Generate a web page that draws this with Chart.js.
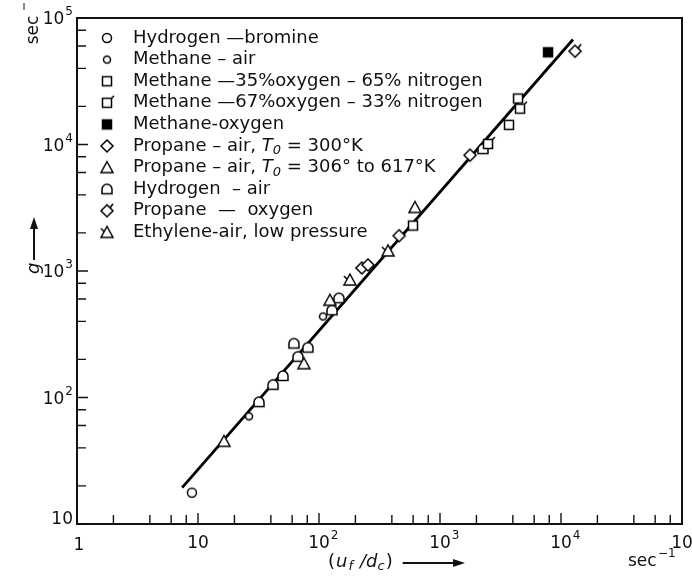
<!DOCTYPE html>
<html>
<head>
<meta charset="utf-8">
<script src="https://cdn.jsdelivr.net/npm/chart.js@4/dist/chart.umd.min.js"></script>
<style>
  body { margin: 0; background: #fff; }
  canvas { display: block; }
</style>
</head>
<body>
<canvas id="chart" width="692" height="578"></canvas>
<script>
// flame data: x = u_f/d_c (sec^-1), y = g (sec^-1)
var hbrX = [8.9];
var hbrY = [17.7];
var methAirX = [26.4, 108];
var methAirY = [71, 437];
var meth35X = [598, 3716, 4415];
var meth35Y = [2286, 14300, 23100];
var meth67X = [2494, 4583];
var meth67Y = [10100, 19200];
var methOxX = [7810];
var methOxY = [53600];
var prop300X = [226, 254, 459, 1770];
var prop300Y = [1057, 1117, 1900, 8240];
var propHotX = [16.4, 75, 123, 621];
var propHotY = [45, 185, 587, 3180];
var h2AirX = [31.9, 41.7, 50.4, 62, 67, 81, 128, 146, 2265];
var h2AirY = [92, 126, 148, 267, 210, 248, 489, 609, 9200];
var propOxX = [13060];
var propOxY = [54600];
var ethX = [180, 372];
var ethY = [848, 1442];

// fitted line end points
var fitX = [7.4, 12560];
var fitY = [19.4, 67600];

// axis ticks
var xDecades = [1, 10, 100, 1000, 10000, 100000];
var xExp = ['', '', '2', '3', '4', '5'];
var yDecades = [10, 100, 1000, 10000, 100000];
var yExp = ['', '2', '3', '4', '5'];
var minorSteps = [2, 4, 6, 8];

var FONT = '"DejaVu Sans", sans-serif';

function pts(xs, ys) {
  return xs.map(function (x, i) { return { x: x, y: ys[i] }; });
}

// small canvases used as point styles (and again in the legend)
function marker(kind) {
  var c = document.createElement('canvas');
  c.width = 20; c.height = 20;
  var g = c.getContext('2d');
  g.lineWidth = 1.5;
  g.strokeStyle = '#000';
  g.fillStyle = '#fff';
  g.beginPath();
  if (kind == 'circle') {
    g.arc(10, 10, 4.5, 0, 2 * Math.PI);
  } else if (kind == 'smallCircle') {
    g.arc(10, 10, 3.5, 0, 2 * Math.PI);
  } else if (kind == 'square' || kind == 'squareTick' || kind == 'filled') {
    g.rect(5.5, 5.5, 9, 9);
  } else if (kind == 'diamond' || kind == 'diamondTick') {
    g.moveTo(10, 4); g.lineTo(16, 10); g.lineTo(10, 16); g.lineTo(4, 10); g.closePath();
  } else if (kind == 'triangle' || kind == 'triangleTick') {
    g.moveTo(10, 4); g.lineTo(16, 15); g.lineTo(4, 15); g.closePath();
  } else if (kind == 'arch') {
    g.moveTo(5, 14.5); g.lineTo(5, 10); g.arc(10, 10, 5, Math.PI, 0); g.lineTo(15, 14.5); g.closePath();
  }
  if (kind == 'filled') g.fillStyle = '#000';
  g.fill();
  g.stroke();
  g.beginPath();
  if (kind == 'squareTick') { g.moveTo(14.5, 5.5); g.lineTo(17, 3); }
  if (kind == 'diamondTick') { g.moveTo(13, 7); g.lineTo(16, 3); }
  if (kind == 'triangleTick') { g.moveTo(7, 9); g.lineTo(4, 6); }
  g.stroke();
  return c;
}

var series = [
  { label: [['Hydrogen \u2014bromine']], x: hbrX, y: hbrY, m: marker('circle') },
  { label: [['Methane \u2013 air']], x: methAirX, y: methAirY, m: marker('smallCircle') },
  { label: [['Methane \u201435%oxygen \u2013 65% nitrogen']], x: meth35X, y: meth35Y, m: marker('square') },
  { label: [['Methane \u201467%oxygen \u2013 33% nitrogen']], x: meth67X, y: meth67Y, m: marker('squareTick') },
  { label: [['Methane-oxygen']], x: methOxX, y: methOxY, m: marker('filled') },
  { label: [['Propane \u2013 air, '], ['T', 'i'], ['0', 'sub'], [' = 300\u00b0K']], x: prop300X, y: prop300Y, m: marker('diamond') },
  { label: [['Propane \u2013 air, '], ['T', 'i'], ['0', 'sub'], [' = 306\u00b0 to 617\u00b0K']], x: propHotX, y: propHotY, m: marker('triangle') },
  { label: [['Hydrogen  \u2013 air']], x: h2AirX, y: h2AirY, m: marker('arch') },
  { label: [['Propane  \u2014  oxygen']], x: propOxX, y: propOxY, m: marker('diamondTick') },
  { label: [['Ethylene-air, low pressure']], x: ethX, y: ethY, m: marker('triangleTick') }
];

var datasets = [{
  type: 'line',
  label: 'fit',
  data: pts(fitX, fitY),
  borderColor: '#000',
  borderWidth: 2.8,
  pointRadius: 0,
  order: 5
}];
series.forEach(function (s) {
  datasets.push({
    label: s.label.map(function (p) { return p[0]; }).join(''),
    data: pts(s.x, s.y),
    pointStyle: s.m,
    order: 0
  });
});

// base number with a raised exponent
function drawPow(ctx, base, exp, x, y, align) {
  ctx.font = '17px ' + FONT;
  var bw = ctx.measureText(base).width;
  ctx.font = '12px ' + FONT;
  var ew = exp ? ctx.measureText(exp).width + 1 : 0;
  var left = align == 'right' ? x - bw - ew : x - bw / 2;
  ctx.textAlign = 'left';
  ctx.textBaseline = 'middle';
  ctx.font = '17px ' + FONT;
  ctx.fillText(base, left, y);
  if (exp) {
    ctx.font = '12px ' + FONT;
    ctx.fillText(exp, left + bw + 1, y - 8);
  }
}

// legend text with italic and subscript pieces
function drawRich(ctx, parts, x, y) {
  ctx.textAlign = 'left';
  ctx.textBaseline = 'middle';
  parts.forEach(function (p) {
    var dy = 0;
    if (p[1] == 'i') ctx.font = 'italic 18px ' + FONT;
    else if (p[1] == 'sub') { ctx.font = 'italic 13px ' + FONT; dy = 5; }
    else ctx.font = '18px ' + FONT;
    ctx.fillText(p[0], x, y + dy);
    x += ctx.measureText(p[0]).width;
  });
}

function arrow(ctx, x1, y1, x2, y2) {
  ctx.beginPath();
  ctx.moveTo(x1, y1);
  ctx.lineTo(x2, y2);
  ctx.lineWidth = 2;
  ctx.stroke();
  var a = Math.atan2(y2 - y1, x2 - x1);
  ctx.beginPath();
  ctx.moveTo(x2 + 3 * Math.cos(a), y2 + 3 * Math.sin(a));
  ctx.lineTo(x2 - 9 * Math.cos(a) + 4 * Math.sin(a), y2 - 9 * Math.sin(a) - 4 * Math.cos(a));
  ctx.lineTo(x2 - 9 * Math.cos(a) - 4 * Math.sin(a), y2 - 9 * Math.sin(a) + 4 * Math.cos(a));
  ctx.closePath();
  ctx.fill();
}

var frame = {
  id: 'frame',
  afterDraw: function (chart) {
    var ctx = chart.ctx;
    var a = chart.chartArea;
    var xs = chart.scales.x, ys = chart.scales.y;
    ctx.save();
    ctx.strokeStyle = '#111';
    ctx.fillStyle = '#111';

    ctx.lineWidth = 2;
    ctx.strokeRect(a.left, a.top, a.right - a.left, a.bottom - a.top);

    // inward ticks
    ctx.lineWidth = 1.4;
    ctx.beginPath();
    xDecades.forEach(function (d, i) {
      var px = xs.getPixelForValue(d);
      ctx.moveTo(px, a.bottom); ctx.lineTo(px, a.bottom - 11);
      if (i < xDecades.length - 1) {
        minorSteps.forEach(function (s) {
          var q = xs.getPixelForValue(d * s);
          ctx.moveTo(q, a.bottom); ctx.lineTo(q, a.bottom - 9);
        });
      }
    });
    yDecades.forEach(function (d, i) {
      var py = ys.getPixelForValue(d);
      ctx.moveTo(a.left, py); ctx.lineTo(a.left + 11, py);
      if (i < yDecades.length - 1) {
        minorSteps.forEach(function (s) {
          var q = ys.getPixelForValue(d * s);
          ctx.moveTo(a.left, q); ctx.lineTo(a.left + 9, q);
        });
      }
    });
    ctx.stroke();

    // tick labels
    xDecades.forEach(function (d, i) {
      var px = xs.getPixelForValue(d);
      if (d == 1) drawPow(ctx, '1', '', px + 2, a.bottom + 22);
      else drawPow(ctx, '10', xExp[i], px, a.bottom + 20);
    });
    yDecades.forEach(function (d, i) {
      var py = ys.getPixelForValue(d);
      drawPow(ctx, '10', yExp[i], a.left - 4, d == 10 ? py - 4 : py + 2, 'right');
    });

    // axis titles
    ctx.textBaseline = 'middle';
    ctx.textAlign = 'left';
    var tx = 328, ty = 562;
    ctx.font = '18px ' + FONT;
    ctx.fillText('(', tx, ty); tx += ctx.measureText('(').width + 1;
    ctx.font = 'italic 18px ' + FONT;
    ctx.fillText('u', tx, ty); tx += ctx.measureText('u').width;
    ctx.font = 'italic 13px ' + FONT;
    ctx.fillText('f', tx + 1, ty + 5); tx += ctx.measureText('f').width + 8;
    ctx.font = 'italic 18px ' + FONT;
    ctx.fillText('/d', tx, ty); tx += ctx.measureText('/d').width;
    ctx.font = 'italic 13px ' + FONT;
    ctx.fillText('c', tx, ty + 5); tx += ctx.measureText('c').width + 1;
    ctx.font = '18px ' + FONT;
    ctx.fillText(')', tx, ty);
    tx += ctx.measureText(')').width;
    arrow(ctx, tx + 10, ty + 1, 462, ty + 1);

    ctx.font = '17px ' + FONT;
    ctx.fillText('sec', 628, 562);
    ctx.font = '12px ' + FONT;
    ctx.fillText('\u22121', 658, 554);

    ctx.save();
    ctx.translate(34, 250);
    ctx.rotate(-Math.PI / 2);
    ctx.font = 'italic 18px ' + FONT;
    ctx.textAlign = 'left';
    ctx.fillText('g', -24, 0);
    arrow(ctx, -10, 0, 30, 0);
    ctx.restore();

    ctx.save();
    ctx.translate(34, 30);
    ctx.rotate(-Math.PI / 2);
    ctx.font = '17px ' + FONT;
    ctx.textAlign = 'center';
    ctx.fillText('sec', 0, 0);
    ctx.restore();
    ctx.beginPath();
    ctx.lineWidth = 1;
    ctx.moveTo(24, 3); ctx.lineTo(24, 10);
    ctx.stroke();

    // legend inside the plot
    series.forEach(function (s, i) {
      var y = 38 + i * 21.6;
      ctx.drawImage(s.m, 107 - 10, y - 10);
      drawRich(ctx, s.label, 133, y);
    });
    ctx.restore();
  }
};

new Chart(document.getElementById('chart'), {
  type: 'scatter',
  data: { datasets: datasets },
  options: {
    responsive: false,
    animation: false,
    layout: { padding: { left: 77, right: 10, top: 18, bottom: 54 } },
    plugins: { legend: { display: false }, tooltip: { enabled: false } },
    scales: {
      x: { type: 'logarithmic', min: 1, max: 100000, display: false },
      y: { type: 'logarithmic', min: 10, max: 100000, display: false }
    }
  },
  plugins: [frame]
});
</script>
</body>
</html>
